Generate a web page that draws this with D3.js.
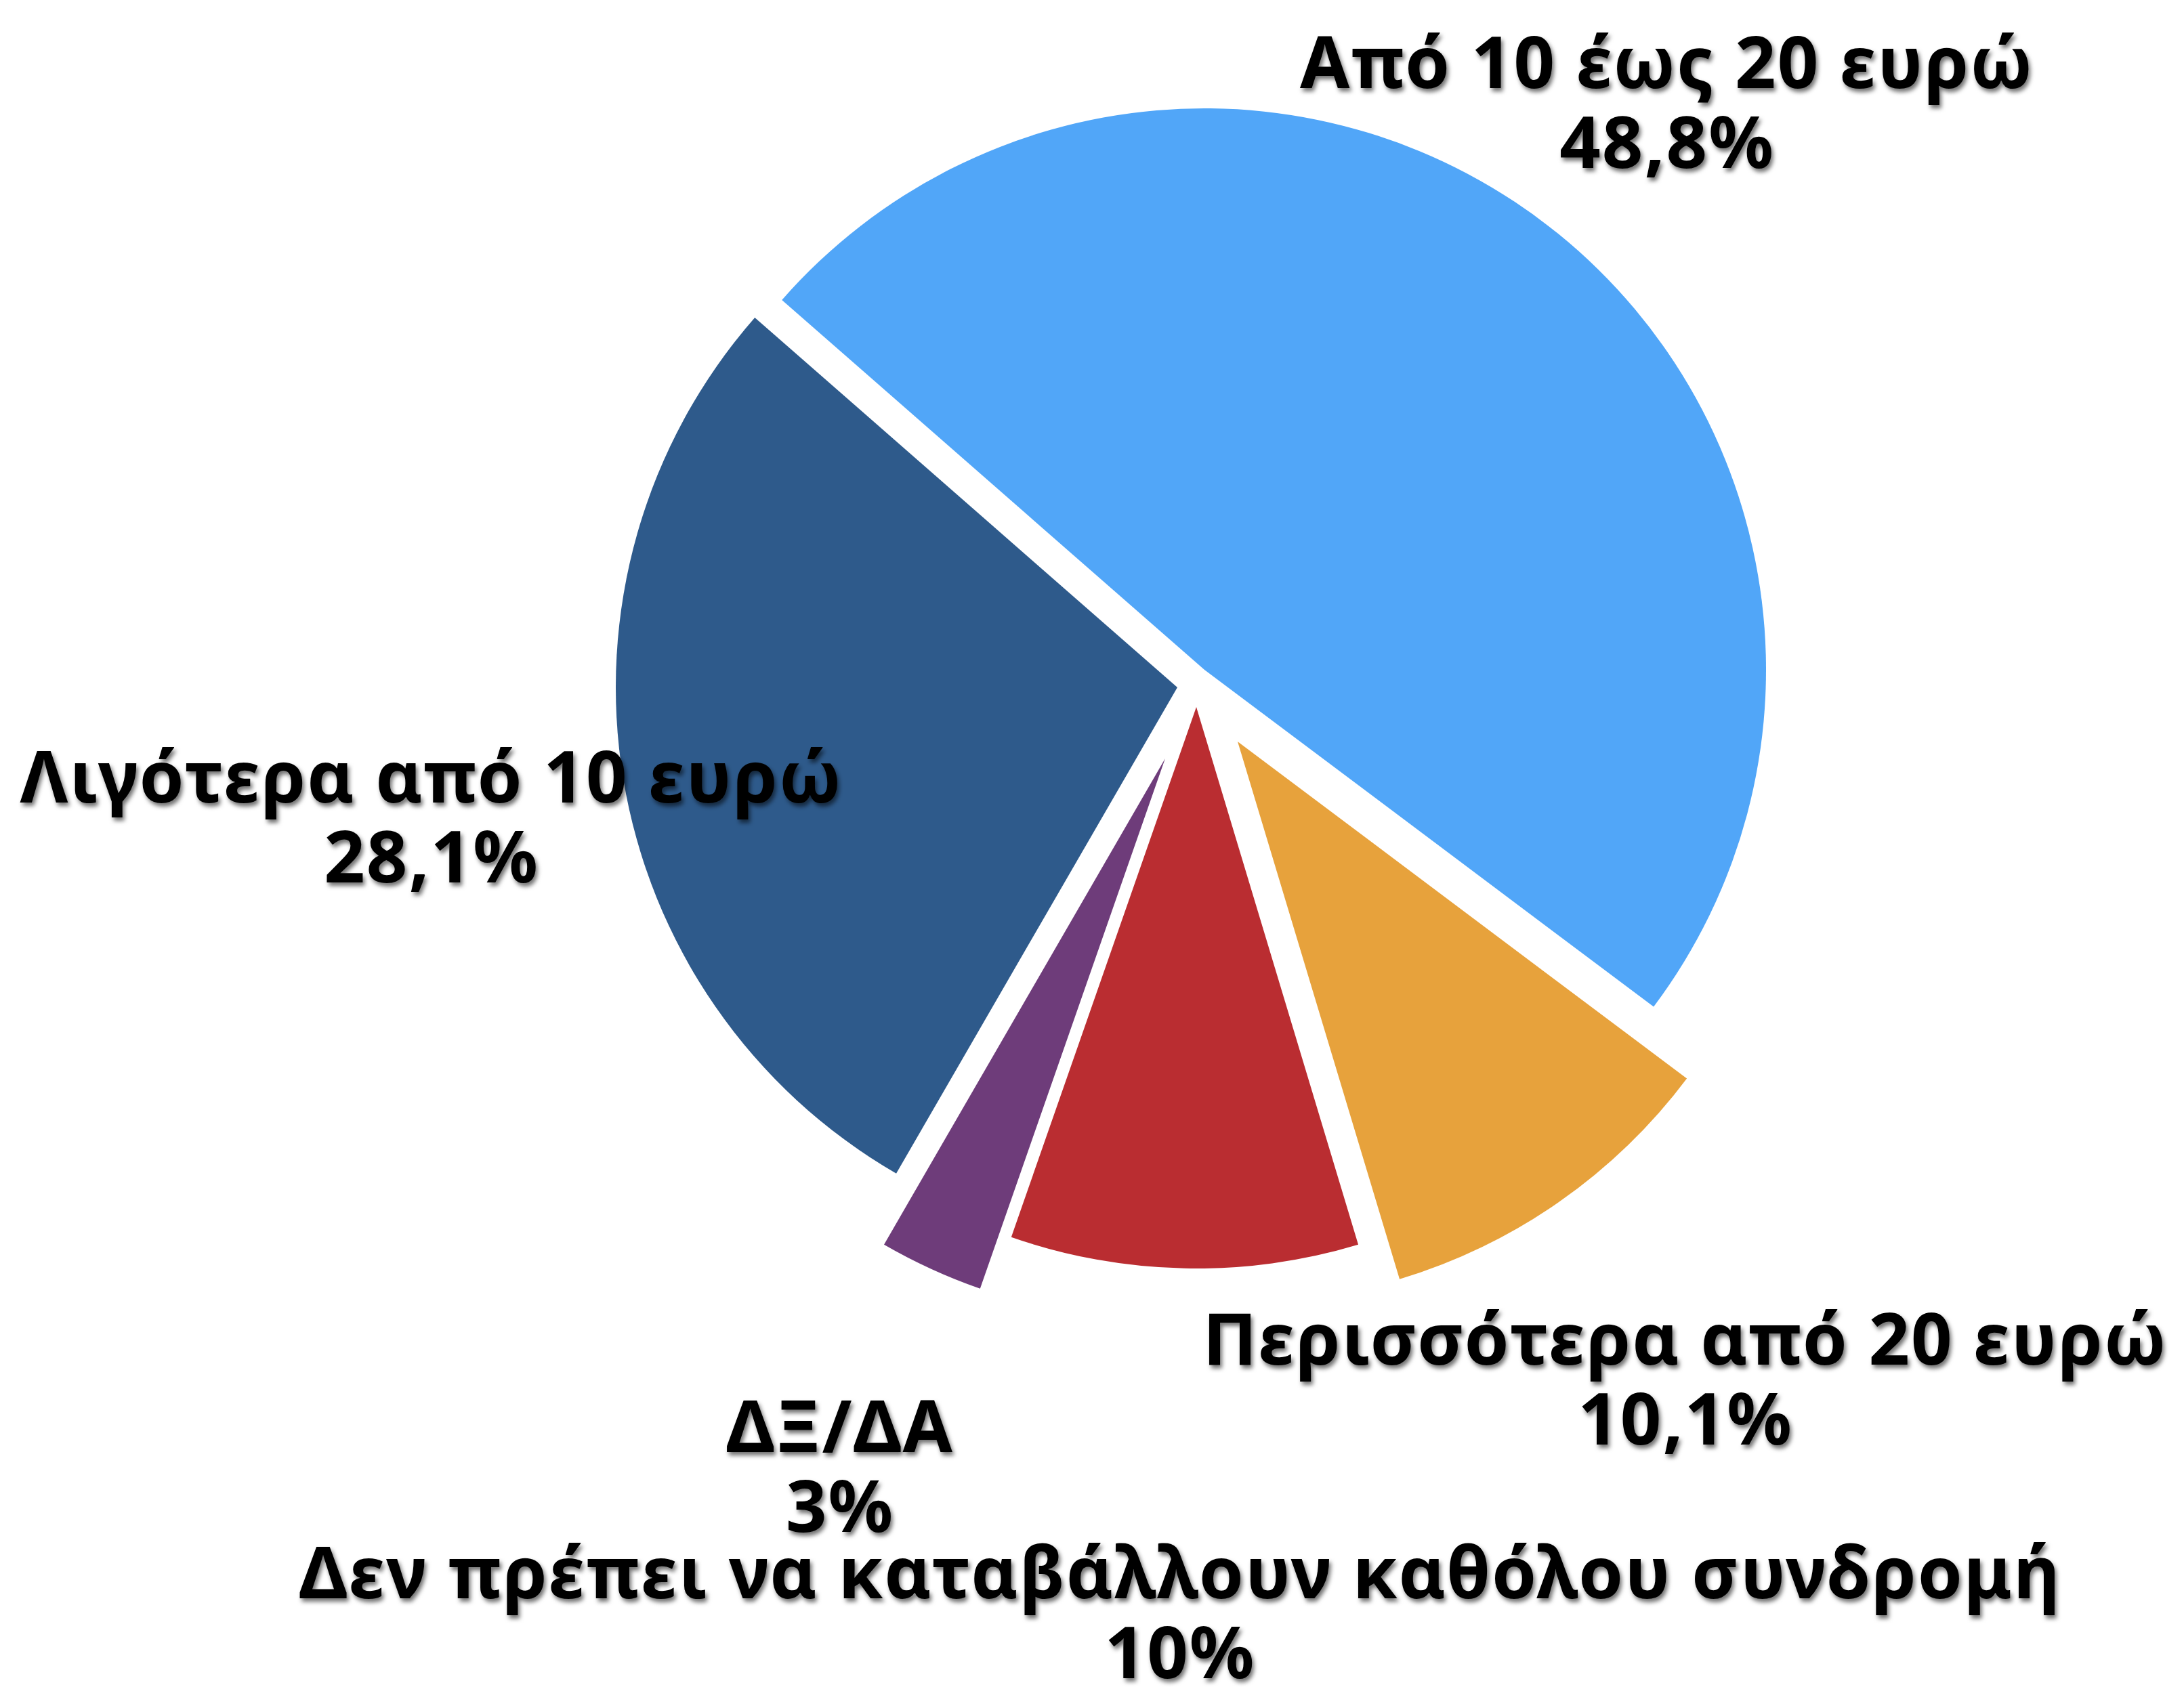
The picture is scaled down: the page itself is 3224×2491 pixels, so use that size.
<!DOCTYPE html>
<html>
<head>
<meta charset="utf-8">
<script src="https://cdn.jsdelivr.net/npm/d3@7"></script>
<style>
  html, body { margin: 0; padding: 0; background: #fff; }
  svg { display: block; }
  .lbl { font-family: "Noto Sans", "DejaVu Sans", sans-serif; font-weight: 700; fill: #000; letter-spacing: 2px; }
</style>
</head>
<body>
<script>
// data
var categories = [
  "Από 10 έως 20 ευρώ",
  "Περισσότερα από 20 ευρώ",
  "Δεν πρέπει να καταβάλλουν καθόλου συνδρομή",
  "ΔΞ/ΔΑ",
  "Λιγότερα από 10 ευρώ"
];
var values = [48.8, 10.1, 10, 3, 28.1];

// styles / layout
var colors = ["#51A6F8", "#E7A23C", "#BA2D31", "#6E3C7A", "#2E5A8B"];
// exploded slices: shift of each wedge's tip from the pie centre
var explode = [[23, -28], [72, 78], [11, 27], [-35, 103], [-17, -2]];
// label anchors (centre of the first line)
var labelPos = [[2461, 130], [2488, 2015], [1742, 2360], [1240, 2144], [637, 1185]];

var W = 3224, H = 2491,
    cx = 1755, cy = 1017,
    R = 829,
    start = -48.8 * Math.PI / 180,
    lineGap = 118;

var svg = d3.select("body").append("svg").attr("width", W).attr("height", H);

var defs = svg.append("defs");
defs.append("filter").attr("id", "shadow")
    .attr("x", "-10%").attr("y", "-30%").attr("width", "120%").attr("height", "160%")
  .append("feDropShadow")
    .attr("dx", 3).attr("dy", 5).attr("stdDeviation", 3)
    .attr("flood-color", "#000").attr("flood-opacity", 0.55);

var pie = d3.pie().sort(null).startAngle(start).endAngle(start + 2 * Math.PI);
var arc = d3.arc().innerRadius(0).outerRadius(R);
var arcs = pie(values);

svg.append("g").selectAll("path")
  .data(arcs)
  .join("path")
    .attr("transform", function (d, i) { return "translate(" + (cx + explode[i][0]) + "," + (cy + explode[i][1]) + ")"; })
    .attr("d", arc)
    .attr("fill", function (d, i) { return colors[i]; });

var fmt = d3.formatLocale({decimal: ",", thousands: ".", grouping: [3], currency: ["", "€"]}).format(".1~f");

var labels = svg.append("g").attr("filter", "url(#shadow)")
  .selectAll("text")
  .data(arcs)
  .join("text")
    .attr("class", "lbl")
    .attr("text-anchor", "middle")
    .attr("font-size", 106)
    .attr("x", function (d, i) { return labelPos[i][0]; })
    .attr("y", function (d, i) { return labelPos[i][1]; });

labels.append("tspan")
    .attr("x", function (d, i) { return labelPos[i][0]; })
    .text(function (d, i) { return categories[i]; });
labels.append("tspan")
    .attr("x", function (d, i) { return labelPos[i][0]; })
    .attr("dy", lineGap)
    .text(function (d) { return fmt(d.data) + "%"; });
</script>
</body>
</html>
